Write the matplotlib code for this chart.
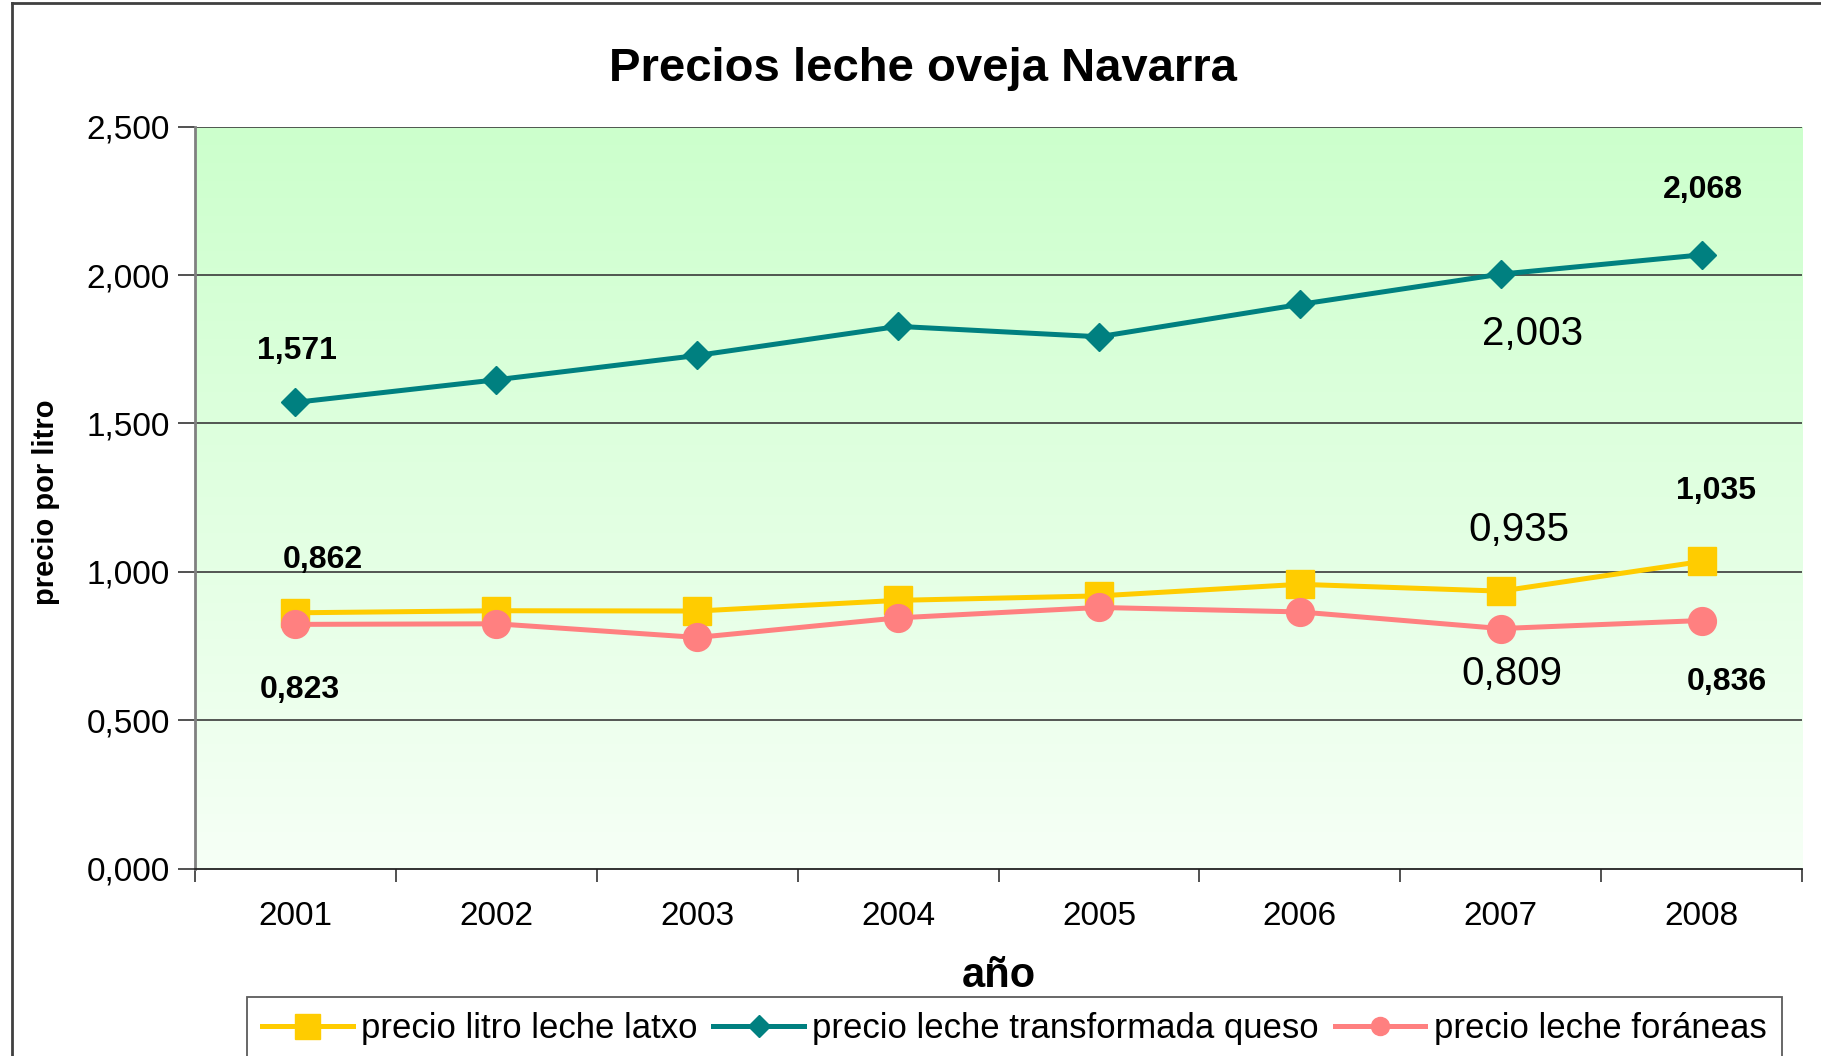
import numpy as np
import matplotlib
matplotlib.use("Agg")
import matplotlib.pyplot as plt
from matplotlib.lines import Line2D

# -----------------------------
# data
# -----------------------------
years = ["2001", "2002", "2003", "2004", "2005", "2006", "2007", "2008"]
latxo = [0.862, 0.869, 0.868, 0.904, 0.919, 0.958, 0.935, 1.035]
queso = [1.571, 1.647, 1.729, 1.827, 1.792, 1.901, 2.003, 2.068]
foraneas = [0.823, 0.825, 0.779, 0.845, 0.880, 0.865, 0.809, 0.836]
series_names = ["precio litro leche latxo", "precio leche transformada queso",
                "precio leche foráneas"]
y_ticks = [0.0, 0.5, 1.0, 1.5, 2.0, 2.5]

FONT = "Liberation Sans"

def fmt(v):
    return f"{v:.3f}".replace(".", ",")

fig = plt.figure(figsize=(18.21, 10.56), dpi=100)
ax = fig.add_axes([0.1071, 0.1774, 0.8825, 0.7027])

x = np.arange(len(years))

# gradient plot area
grad = np.linspace(0, 1, 256).reshape(-1, 1)
top = np.array([204, 255, 204]) / 255
bot = np.array([246, 255, 246]) / 255
img = top + (bot - top) * grad[:, :, None]
ax.imshow(img, extent=[-0.5, 7.5, 0, 2.5], aspect="auto", origin="upper", zorder=0)

for t in y_ticks[1:]:
    ax.axhline(t, color="#3a3a3a", lw=1.2, zorder=1)

ax.plot(x, latxo, color="#FFCC00", lw=3.6, marker="s", ms=20, zorder=3)
ax.plot(x, queso, color="#008080", lw=3.6, marker="D", ms=14, zorder=3)
ax.plot(x, foraneas, color="#FF8080", lw=3.6, marker="o", ms=20, zorder=4)

# data labels: (series, index, offset in points, bold)
labels = [
    (queso, 0, (1, 37), True),
    (latxo, 0, (20, 38), True),
    (foraneas, 0, (3, -47), True),
    (queso, 7, (1, 47), True),
    (latxo, 7, (10, 51), True),
    (foraneas, 7, (18, -44), True),
    (queso, 6, (23, -43), False),
    (latxo, 6, (13, 44), False),
    (foraneas, 6, (8, -33), False),
]
for s, i, off, bold in labels:
    ax.annotate(fmt(s[i]), (x[i], s[i]), xytext=off, textcoords="offset points",
                ha="center", va="center", family=FONT,
                fontsize=23 if bold else 29,
                fontweight="bold" if bold else "normal", zorder=5)

ax.set_xlim(-0.5, 7.5)
ax.set_ylim(0, 2.5)
ax.set_yticks(y_ticks)
ax.set_yticklabels([fmt(v) for v in y_ticks], family=FONT, fontsize=24)
ax.set_xticks(x)
ax.set_xticklabels(years, family=FONT, fontsize=24)
ax.set_xticks(np.arange(-0.5, 8.0, 1.0), minor=True)
ax.tick_params(axis="x", which="major", length=0, pad=23)
ax.tick_params(axis="x", which="minor", length=9, width=1.2, color="#333333")
ax.tick_params(axis="y", length=12, width=1.2, pad=6, color="#333333")

for side in ["top", "right"]:
    ax.spines[side].set_visible(False)
ax.spines["left"].set_color("#808080")
ax.spines["left"].set_linewidth(2)
ax.spines["bottom"].set_color("#222222")
ax.spines["bottom"].set_linewidth(1.3)

fig.text(0.5067, 0.935, "Precios leche oveja Navarra", ha="center", va="center",
         family=FONT, fontsize=34, fontweight="bold")
fig.text(0.0253, 0.5246, "precio por litro", rotation=90, ha="center", va="center",
         family=FONT, fontsize=21, fontweight="bold")
fig.text(0.5486, 0.0753, "año", ha="center", va="center",
         family=FONT, fontsize=30, fontweight="bold")

# outer frame (left and top)
fig.add_artist(Line2D([0.0066, 0.0066], [0, 0.9967], color="#404040", lw=2,
                      transform=fig.transFigure))
fig.add_artist(Line2D([0.0066, 1], [0.9967, 0.9967], color="#404040", lw=2,
                      transform=fig.transFigure))

handles = [
    Line2D([], [], color="#FFCC00", lw=3.6, marker="s", ms=18),
    Line2D([], [], color="#008080", lw=3.6, marker="D", ms=11),
    Line2D([], [], color="#FF8080", lw=3.6, marker="o", ms=13),
]
leg = fig.legend(handles, series_names, loc="upper center",
                 bbox_to_anchor=(0.557, 0.0563), bbox_transform=fig.transFigure,
                 ncol=3, prop={"family": FONT, "size": 25}, frameon=True,
                 fancybox=False, edgecolor="#333333", handlelength=2.6,
                 handletextpad=0.25, columnspacing=0.45, borderpad=0.45,
                 borderaxespad=0)
leg.get_frame().set_linewidth(1.3)

fig.savefig("out.png", dpi=100)
